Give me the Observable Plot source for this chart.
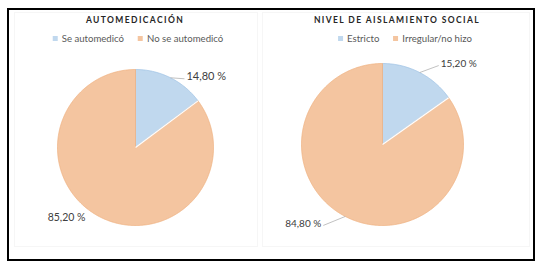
<!DOCTYPE html>
<html><head><meta charset="utf-8">
<script src="https://cdn.jsdelivr.net/npm/d3@7"></script>
<script src="https://cdn.jsdelivr.net/npm/@observablehq/plot@0.6"></script>
<style>
body{margin:0;background:#fff;font-family:Lato,"Open Sans",sans-serif;}
#wrap{position:relative;width:542px;height:264px;overflow:hidden;}
#frame{position:absolute;left:7px;top:8px;width:524px;height:249px;border:2px solid #000;}
.panel{position:absolute;top:12px;height:233px;border:1px solid #f6f6f6;}
.title{position:absolute;top:15px;font-weight:700;font-size:8.5px;letter-spacing:1.4px;color:#262626;white-space:nowrap;transform:translateX(-50%);}
.legend{position:absolute;top:33px;font-size:9.6px;color:#595959;white-space:nowrap;transform:translateX(-50%);}
.legend span.sw{display:inline-block;width:5px;height:5px;margin-right:4px;vertical-align:1px;}
.legend span.it{margin-right:14px;}
.plot{position:absolute;top:0;}
</style></head>
<body><div id="wrap"><div id="frame"></div>
<div class="panel" style="left:14px;width:242px"></div>
<div class="panel" style="left:262px;width:266px"></div>
</div>
<script>
// ---- data ----
const titles = ["AUTOMEDICACIÓN", "NIVEL DE AISLAMIENTO SOCIAL"];
const categoriesA = ["Se automedicó", "No se automedicó"];
const valuesA = [14.8, 85.2];
const categoriesB = ["Estricto", "Irregular/no hizo"];
const valuesB = [15.2, 84.8];
const labelsA = ["14,80 %", "85,20 %"];
const labelsB = ["15,20 %", "84,80 %"];
const colors = ["#c0d8ee", "#f4c5a0"];
const strokes = ["#9fc3e4", "#efb283"];

// ---- layout (pixels) ----
const layouts = [
  {left:0, w:271, cx:135, cy:147, r:78, titleX:135, legendX:138,
   lab:[{dx:16, dy:-1, anchor:"start", leader:true, fs:11},{dx:-15, dy:0, anchor:"end", leader:false, fs:10.5}]},
  {left:271, w:271, cx:111, cy:144, r:81, titleX:126, legendX:134,
   lab:[{dx:21, dy:-9, anchor:"start", leader:true, fs:10},{dx:-24, dy:7, anchor:"end", leader:true, fs:10}]}
];
const H = 264;
const wrap = document.getElementById("wrap");

function drawPie(cats, vals, labels, title, L){
  const arcs = d3.pie().sort(null).value(d => d)(vals);
  const marks = [];
  arcs.forEach((a, i) => {
    const pts = [{x:0, y:0}];
    const n = Math.max(2, Math.ceil((a.endAngle - a.startAngle) / 0.01));
    for (let k = 0; k <= n; k++) {
      const t = a.startAngle + (a.endAngle - a.startAngle) * k / n;
      pts.push({x: Math.sin(t), y: Math.cos(t)});
    }
    pts.push({x:0, y:0});
    marks.push(Plot.line(pts, {x:"x", y:"y", fill: colors[i], stroke: strokes[i], strokeWidth: 0.8, curve:"linear-closed"}));
  });
  // white separators between slices
  const sep = arcs.map(a => ({x1:0, y1:0, x2:Math.sin(a.startAngle), y2:Math.cos(a.startAngle)}));
  marks.push(Plot.link(sep.slice(1), {x1:"x1", y1:"y1", x2:"x2", y2:"y2", stroke:"#fff", strokeWidth:1.2}));
  // labels
  const u = 1 / L.r;
  const labData = arcs.map((a, i) => {
    const m = (a.startAngle + a.endAngle) / 2;
    const ax = Math.sin(m), ay = Math.cos(m);
    const o = L.lab[i];
    return {ax, ay, lx: ax + o.dx * u, ly: ay - o.dy * u, text: labels[i], anchor: o.anchor, leader: o.leader, fs: o.fs};
  });
  labData.forEach(d => {
    if (d.leader) {
      const gap = d.anchor === "start" ? -2 * u : 2 * u;
      marks.push(Plot.link([d], {x1: d => d.ax, y1: d => d.ay, x2: d => d.lx + gap, y2: d => d.ly - 2*u, stroke:"#a6a6a6", strokeWidth:0.7}));
    }
    marks.push(Plot.text([d], {x:"lx", y:"ly", text:"text", textAnchor: d.anchor, fontSize: d.fs, fill:"#404040", fontFamily:"Lato, sans-serif"}));
  });
  const svg = Plot.plot({
    width: L.w, height: H, margin: 0,
    x: {domain: [-L.cx / L.r, (L.w - L.cx) / L.r], axis: null},
    y: {domain: [-(H - L.cy) / L.r, L.cy / L.r], axis: null},
    style: {background: "transparent", overflow: "visible"},
    marks
  });
  svg.classList.add("plot");
  svg.style.left = L.left + "px";
  wrap.appendChild(svg);

  const t = document.createElement("div");
  t.className = "title"; t.textContent = title;
  t.style.left = (L.left + L.titleX) + "px";
  wrap.appendChild(t);

  const lg = document.createElement("div");
  lg.className = "legend";
  lg.style.left = (L.left + L.legendX) + "px";
  cats.forEach((c, i) => {
    const sw = document.createElement("span"); sw.className = "sw"; sw.style.background = colors[i];
    const it = document.createElement("span"); it.className = i < cats.length - 1 ? "it" : ""; it.textContent = c;
    lg.appendChild(sw); lg.appendChild(it);
  });
  wrap.appendChild(lg);
}
drawPie(categoriesA, valuesA, labelsA, titles[0], layouts[0]);
drawPie(categoriesB, valuesB, labelsB, titles[1], layouts[1]);
</script></body></html>
